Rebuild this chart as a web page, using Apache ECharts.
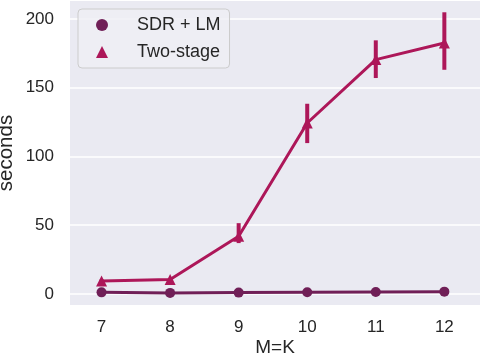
<!DOCTYPE html>
<html><head><meta charset="utf-8">
<script src="https://cdn.jsdelivr.net/npm/echarts@6/dist/echarts.min.js"></script>
<style>html,body{margin:0;padding:0;background:#fff}#c{width:480px;height:356px}</style>
</head><body><div id="c"></div>
<script>
var categories = [7, 8, 9, 10, 11, 12];
var sdrLM = [1.2, 0.8, 1.0, 1.3, 1.5, 1.7];
var twoStage = [9.5, 10.5, 42, 124.3, 170.4, 182.5];
var twoStageLow = [8.5, 9.5, 37, 109.7, 157, 163];
var twoStageHigh = [10.5, 11.5, 51.5, 138.3, 184.4, 204.8];
var yTicks = [0, 50, 100, 150, 200];
var seriesNames = ['SDR + LM', 'Two-stage'];

var C1 = '#701f57', C2 = '#ad1759';
var font = 'Liberation Sans, Arial, sans-serif';

function pairs(vals) { return categories.map(function (c, i) { return [c, vals[i]]; }); }
var errData = categories.map(function (c, i) { return [c, twoStageLow[i], twoStageHigh[i]]; });

var chart = echarts.init(document.getElementById('c'), null, {renderer: 'canvas'});
chart.setOption({
  animation: false,
  backgroundColor: '#ffffff',
  textStyle: {fontFamily: font},
  grid: {left: 70, right: 0, top: 1, bottom: 51, show: true, backgroundColor: '#eaeaf2', borderWidth: 0,
    containLabel: false, outerBoundsMode: 'none'},
  legend: {
    orient: 'vertical', left: 78, top: 9,
    data: [{name: seriesNames[0], icon: 'circle'}, {name: seriesNames[1], icon: 'triangle'}],
    itemWidth: 12, itemHeight: 12, itemGap: 9,
    padding: [7, 9, 7, 18],
    backgroundColor: 'rgba(238,238,244,0.85)', borderColor: '#cccccc', borderWidth: 1, borderRadius: 4,
    textStyle: {fontSize: 18, color: '#262626', fontFamily: font, padding: [0, 0, 0, 24]}
  },
  xAxis: {
    type: 'value', min: 6.54, max: 12.52,
    name: 'M=K', nameLocation: 'middle', nameGap: 33, nameMoveOverlap: false,
    nameTextStyle: {fontSize: 19, color: '#262626'},
    axisLine: {show: false}, axisTick: {show: false}, splitLine: {show: false},
    axisLabel: {customValues: categories, fontSize: 17, color: '#262626', margin: 14}
  },
  yAxis: {
    type: 'value', min: -8, max: 213,
    name: 'seconds', nameLocation: 'middle', nameGap: 53, nameMoveOverlap: false,
    nameTextStyle: {fontSize: 20.5, color: '#262626'},
    axisLine: {show: false},
    axisTick: {show: false, customValues: yTicks},
    splitLine: {show: true, lineStyle: {color: '#ffffff', width: 1.5}},
    axisLabel: {customValues: yTicks, fontSize: 17, color: '#262626', margin: 16}
  },
  series: [
    {
      name: seriesNames[0], type: 'line', data: pairs(sdrLM), color: C1,
      symbol: 'circle', symbolSize: 10,
      lineStyle: {width: 3, color: C1}, itemStyle: {color: C1}, z: 3
    },
    {
      name: seriesNames[1], type: 'line', data: pairs(twoStage), color: C2,
      symbol: 'triangle', symbolSize: 11,
      lineStyle: {width: 3, color: C2}, itemStyle: {color: C2}, z: 3
    },
    {
      name: 'err', type: 'custom', data: errData, z: 4,
      renderItem: function (params, api) {
        var p1 = api.coord([api.value(0), api.value(1)]);
        var p2 = api.coord([api.value(0), api.value(2)]);
        return {type: 'line', shape: {x1: p1[0], y1: p1[1], x2: p2[0], y2: p2[1]},
          style: {stroke: C2, lineWidth: 4}};
      }
    }
  ]
});
</script></body></html>
